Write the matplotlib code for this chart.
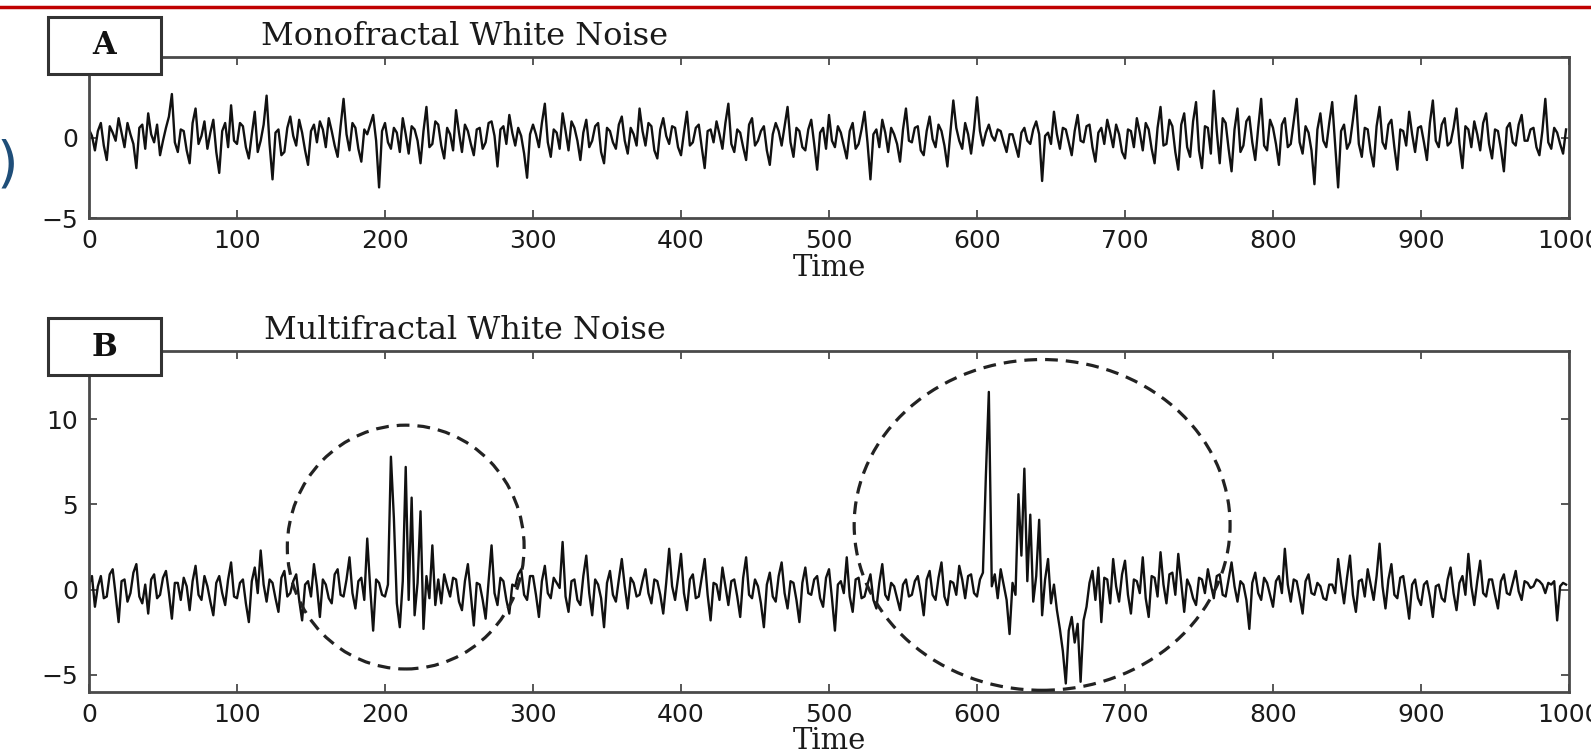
import numpy as np
import matplotlib.pyplot as plt
from matplotlib.patches import Ellipse, Rectangle
from matplotlib.lines import Line2D

# panel A - monofractal white noise, one value every 2 time steps
mono = [
    0.5, 0.1, -0.8, 0.4, 0.9, -0.5, -1.4, 0.7, 0.3, -0.2, 1.2, 0.3, -0.6, 0.9, 0.2, -0.4, -1.9, 0.6, 0.8, -0.7, 1.5, 0.2, -0.3, 0.8, -1.1,
    -0.2, 0.6, 1.3, 2.7, -0.3, -0.9, 0.5, 0.4, -0.8, -1.6, 0.9, 1.8, -0.4, 0.1, 1.0, -0.7, 0.3, 1.1, -0.9, -2.2, 0.4, 0.9, -0.6, 2.0, -0.2,
    -0.4, 0.9, 0.7, -0.6, -1.3, 0.2, 1.6, -0.9, -0.2, 0.8, 2.6, -0.4, -2.6, 0.3, 0.5, -1.1, -0.9, 0.6, 1.3, 0.1, -0.5, 1.1, 0.3, -0.8, -1.7,
    0.4, 0.8, -0.3, 1.0, 0.5, -0.6, 1.2, 0.4, -0.5, -1.2, 0.7, 2.4, 0.2, -0.8, 0.9, 0.6, -0.7, -1.5, 0.5, 0.2, 0.8, 1.4, -0.2, -3.1, 0.4,
    0.9, -0.3, -0.7, 0.6, 0.3, -0.9, 1.2, 0.2, -1.0, 0.7, 0.5, -0.2, -1.6, 0.4, 1.9, -0.6, -0.4, 1.0, 0.8, -0.5, -1.3, 0.6, 0.2, -0.8, 1.7,
    0.3, -0.9, 0.8, 0.4, -0.4, -1.1, 0.5, 0.6, -0.7, -0.3, 0.9, 1.0, 0.1, -1.8, 0.5, 0.7, -0.4, 1.4, 0.3, -0.5, 0.6, 0.1, -1.0, -2.5, 0.2,
    0.8, 0.2, -0.6, 0.9, 2.1, -0.3, -1.2, 0.5, 0.3, -0.7, 1.5, 0.4, -0.8, 1.0, 0.6, -0.2, -1.4, 0.3, 1.1, -0.6, -0.2, 0.7, 0.9, -0.9, -1.6,
    0.6, 0.4, -0.3, -0.7, 0.8, 1.3, -0.2, -1.0, 0.6, 0.2, -0.5, 1.8, 0.4, -0.5, 0.9, 0.7, -0.8, -1.3, 0.5, 1.2, 0.1, -0.4, 0.7, 0.6, -0.6,
    -1.1, 0.3, 1.6, -0.5, -0.3, 0.6, 0.8, -0.6, -1.9, 0.4, 0.5, -0.3, 1.0, 0.2, -0.7, 0.9, 2.1, -0.4, -0.9, 0.5, 0.3, -0.6, -1.4, 0.8, 1.2,
    -0.5, -0.2, 0.4, 0.7, -0.8, -1.7, 0.2, 0.9, 0.4, -0.5, 0.7, 1.9, -0.3, -1.2, 0.6, 0.4, -0.6, -0.8, 0.5, 1.1, -0.4, -2.0, 0.3, 0.6, -0.7,
    1.4, -0.2, -0.6, 0.7, 0.3, -0.5, -1.3, 0.4, 0.9, -0.7, -0.4, 0.5, 1.6, -0.3, -2.6, 0.2, 0.5, -0.6, 1.1, 0.3, -0.9, 0.6, 0.2, -0.4, -1.5,
    0.5, 1.8, -0.2, -0.3, 0.6, 0.7, -0.8, -1.1, 0.4, 1.3, -0.1, -0.6, 0.8, 0.4, -0.5, -1.8, 0.3, 2.3, 0.6, -0.2, -0.7, 0.9, 0.2, -1.0, 0.5,
    2.5, 0.4, -0.5, 0.3, 0.8, 0.1, -0.2, 0.5, 0.4, -0.3, -0.9, 0.2, 0.2, -0.5, -1.2, 0.3, 0.6, -0.2, -0.4, 0.5, 1.0, 0.2, -2.7, 0.1, 0.3,
    -0.4, 1.6, 0.2, -0.7, 0.6, 0.5, -0.3, -1.1, 0.4, 1.4, -0.2, -0.3, 0.7, 0.8, -0.6, -1.5, 0.3, 0.6, -0.4, 1.1, 0.3, -0.6, 0.8, 0.2, -0.9,
    -1.3, 0.5, 0.4, -0.6, 1.2, 0.3, -0.8, 0.9, 0.5, -0.7, -1.6, 0.6, 1.9, -0.5, -0.4, 1.1, 0.7, -0.9, -2.0, 0.8, 1.5, -0.6, -1.2, 1.0, 2.2,
    -0.8, -1.9, 0.7, 0.6, -1.0, 2.9, 0.4, -1.6, 1.2, 0.9, -0.7, -2.1, 0.5, 1.8, -0.9, -0.5, 1.0, 1.3, -0.3, -1.4, 0.6, 2.4, -0.5, -0.8, 1.1,
    0.6, -0.4, -1.7, 0.8, 1.2, -0.6, -0.4, 1.0, 2.4, -0.3, -1.0, 0.7, 0.3, -0.8, -2.9, 0.5, 1.5, -0.2, -0.6, 0.9, 2.2, -0.5, -3.1, 0.4, 0.8,
    -0.7, -0.3, 1.1, 2.6, -0.4, -1.2, 0.6, 0.5, -0.9, -1.8, 0.7, 1.9, -0.3, -0.7, 0.8, 1.1, -0.6, -2.0, 0.5, 0.4, -0.5, 1.6, 0.2, -0.9, 0.6,
    0.7, -0.3, -1.4, 0.9, 2.3, -0.2, -0.6, 0.8, 1.2, -0.5, -0.3, 0.6, 1.8, -0.4, -1.9, 0.7, 0.5, -0.6, 1.0, 0.2, -0.8, 0.9, 1.5, -0.4, -1.3,
    0.5, 0.4, -0.7, -2.1, 0.6, 0.9, -0.3, -0.5, 0.8, 1.4, -0.2, -0.2, 0.5, 0.6, -0.6, -1.1, 0.4, 2.4, -0.3, -0.7, 0.6, 0.3, -0.4, -1.0, 0.5,
]

# panel B - multifractal white noise, same spacing
multi = [
    0.3, 0.8, -1.0, 0.2, 0.8, -0.5, -0.4, 0.9, 1.2, -0.3, -1.9, 0.5, 0.6, -0.7, -0.2, 1.0, 1.5, -0.4, -0.8, 0.3, -1.4, 0.6, 0.9, -0.5, -0.3,
    0.7, 1.1, -0.2, -1.7, 0.4, 0.4, -0.6, 0.7, 0.2, -1.2, 0.5, 1.4, -0.3, -0.6, 0.8, 0.2, -0.7, -1.5, 0.4, 0.8, -0.2, -0.9, 0.6, 1.6, -0.4,
    -0.5, 0.4, 0.6, -0.8, -1.9, 0.5, 1.3, -0.2, 2.3, 0.3, -0.7, 0.6, 0.4, -0.5, -1.3, 0.7, 1.1, -0.4, -0.2, 0.5, 0.9, -0.6, -1.8, 0.3, 0.5,
    -0.4, 1.5, 0.2, -1.6, 0.6, 0.3, -0.5, -0.8, 0.9, 1.2, -0.3, -0.4, 0.6, 1.9, -0.2, -1.1, 0.5, 0.7, -0.6, 3.0, 0.1, -2.4, 0.6, 0.4, -0.3,
    -0.4, 0.3, 7.8, 4.2, -0.8, -2.2, 0.5, 7.2, -0.6, 5.4, -1.5, 0.4, 4.6, -2.3, 0.8, -0.5, 2.6, -0.9, 0.6, -0.8, 0.9, 0.2, -0.4, 0.7, 0.6,
    -0.7, -1.2, 0.5, 1.5, -0.3, -2.1, 0.4, 0.3, -0.6, -1.7, 0.5, 2.6, -0.2, -0.9, 0.7, 0.5, -0.6, -1.4, 0.3, 0.2, 0.9, 1.2, -0.3, -0.6, 0.8,
    0.8, -0.3, -1.6, 0.5, 1.4, -0.2, -0.5, 0.7, 0.4, 0.1, 2.8, -0.4, -1.3, 0.5, 0.6, -0.6, -0.9, 0.8, 2.0, -0.2, -1.5, 0.6, 0.3, -0.5, -2.2,
    0.4, 1.1, -0.3, -0.7, 0.6, 1.8, 0.2, -1.1, 0.7, 0.4, -0.4, -0.3, 0.5, 1.2, -0.2, -0.8, 0.6, 0.5, -0.3, -1.4, 0.4, 2.4, 0.2, -0.6, 0.7,
    2.1, -0.2, -1.2, 0.6, 0.9, -0.5, -0.4, 0.7, 1.8, -0.3, -1.8, 0.4, 0.3, -0.6, 1.3, 0.2, -0.9, 0.5, 0.6, -0.4, -1.6, 0.7, 1.9, -0.3, -0.5,
    0.6, 0.2, -0.8, -2.2, 0.3, 1.0, -0.4, -0.7, 0.8, 1.6, -0.2, -1.1, 0.5, 0.4, -0.6, -1.9, 0.4, 1.3, -0.2, -0.3, 0.6, 0.8, -0.5, -1.0, 0.7,
    1.2, -0.5, -2.4, 0.3, 0.5, -0.2, 1.9, -0.4, -1.3, 0.6, 0.7, -0.5, -0.4, 0.3, 0.9, -0.6, -1.1, 0.4, 1.5, -0.3, -0.6, 0.4, 0.2, -0.5, -1.2,
    0.3, 0.6, -0.4, -0.3, 0.5, 0.8, -0.2, -1.5, 0.6, 1.1, -0.3, -0.6, 0.7, 1.6, -0.4, -0.9, 0.5, 0.4, -0.3, 1.4, 0.6, -0.5, 0.8, 0.9, -0.2,
    -0.4, 0.6, 1.0, 6.7, 11.6, 0.2, 0.9, -0.5, 1.2, 0.3, -0.6, -2.6, 0.4, -0.3, 5.6, 2.0, 7.1, 0.5, 4.4, -0.7, 0.8, 4.1, -1.5, 0.6, 1.8,
    -0.8, 0.3, -1.2, -2.3, -3.6, -5.5, -2.4, -1.6, -3.1, -2.0, -5.4, -1.8, -1.0, 0.4, 1.1, -0.6, 1.3, -1.9, 0.7, 0.6, -0.8, 1.8, 0.2, -0.7, 0.9,
    1.7, -0.3, -1.4, 0.6, 0.5, -0.2, 1.9, -0.5, -1.6, 0.8, 0.7, -0.4, 2.2, 0.3, -0.8, 0.9, 1.0, -0.3, 2.1, 0.4, -1.3, 0.6, 0.2, -0.5, -0.9,
    0.7, 0.6, -0.2, 1.2, 0.3, -0.5, 0.8, 0.9, -0.3, -0.4, 0.6, 1.6, 0.2, -0.7, 0.5, 0.3, -0.6, -2.3, 0.4, 1.0, -0.2, -0.6, 0.7, 0.4, -0.3,
    -1.0, 0.5, 0.8, -0.2, 2.4, 0.3, -0.7, 0.6, 0.5, -0.4, -1.4, 0.5, 0.9, -0.2, -0.3, 0.4, 0.2, -0.5, -0.6, 0.3, 0.3, -0.2, 1.8, 0.4, -0.8,
    0.7, 2.0, -0.3, -1.3, 0.5, 0.6, -0.4, 1.2, 0.3, -0.6, 0.8, 2.7, 0.2, -1.1, 0.6, 1.5, -0.3, -0.5, 0.7, 0.8, -0.4, -1.7, 0.3, 0.6, -0.5,
    -0.9, 0.3, 0.5, -0.4, -1.6, 0.2, 0.3, -0.5, -0.7, 0.6, 1.3, -0.2, -1.2, 0.4, 0.8, -0.3, 2.1, 0.2, -0.9, 0.5, 1.7, -0.2, -0.4, 0.6, 0.6,
    -0.3, -1.1, 0.5, 0.9, -0.2, -0.3, 0.4, 1.1, -0.1, -0.6, 0.5, 0.4, 0.1, 0.2, 0.6, 0.5, 0.3, -0.2, 0.4, 0.3, 0.5, -1.8, 0.2, 0.4, 0.3,
]

step = 2  # time between samples
xticks = [0, 100, 200, 300, 400, 500, 600, 700, 800, 900, 1000]
yticks_a = [-5, 0, 5]
yticks_b = [-5, 0, 5, 10]
titles = ['Monofractal White Noise', 'Multifractal White Noise']
letters = ['A', 'B']

# dashed circles around the bursts: (centre t, centre value, width, height)
bursts = [(214, 2.5, 160, 14.3), (644, 3.8, 254, 19.4)]

W, H = 1591, 752
fig = plt.figure(figsize=(W / 100, H / 100), dpi=100)

sans = ['DejaVu Sans']
serif = ['DejaVu Serif']
axcol = '#4a4a4a'
txtcol = '#1a1a1a'


def px(x0, y0, x1, y1):
    # pixel box (top-left origin) -> figure fraction rect
    return [x0 / W, 1 - y1 / H, (x1 - x0) / W, (y1 - y0) / H]


ax_a = fig.add_axes(px(89, 57, 1569, 218))
ax_b = fig.add_axes(px(89, 351, 1569, 692))

panels = [(ax_a, mono, (-5, 5), yticks_a, 1), (ax_b, multi, (-6, 14), yticks_b, 0)]
for ax, y, ylim, yt, lpad in panels:
    t = np.arange(len(y)) * step
    ax.plot(t, y, color='#111111', lw=1.7)
    ax.set_xlim(0, 1000)
    ax.set_ylim(*ylim)
    ax.set_xticks(xticks)
    ax.set_yticks(yt)
    ax.set_yticklabels(['\u2212' + str(-v) if v < 0 else str(v) for v in yt])
    ax.tick_params(direction='in', length=6, width=1.3, color=axcol,
                   top=True, right=True, labelsize=18, pad=8)
    for lab in ax.get_xticklabels() + ax.get_yticklabels():
        lab.set_family(sans)
        lab.set_color(txtcol)
    for s in ax.spines.values():
        s.set_color(axcol)
        s.set_linewidth(2)
    ax.set_xlabel('Time', family=serif, fontsize=21, color=txtcol, labelpad=lpad)

for (cx, cy, w, h) in bursts:
    ax_b.add_patch(Ellipse((cx, cy), w, h, fill=False, ls=(0, (4, 2.5)),
                           lw=2.3, color='#222222', clip_on=False, zorder=3))

# panel titles and letter boxes
for top, title, letter in [(57, titles[0], letters[0]), (351, titles[1], letters[1])]:
    fig.text(465 / W, 1 - (top - 12) / H, title, family=serif, fontsize=23,
             ha='center', va='baseline', color=txtcol)
    box_top = top - 40 if letter == 'A' else top - 33
    fig.add_artist(Rectangle((48 / W, 1 - (box_top + 57) / H), 113 / W, 57 / H,
                             transform=fig.transFigure, facecolor='white',
                             edgecolor='#333333', lw=2.2, zorder=5))
    fig.text(104 / W, 1 - (box_top + 29) / H, letter, family=serif, fontsize=22,
             fontweight='bold', ha='center', va='center', color='#111111', zorder=6)

# slide decorations: red rule at top and a cut-off bracket on the left
fig.add_artist(Line2D([0, 1], [1 - 7 / H, 1 - 7 / H], transform=fig.transFigure,
                      color='#c00000', lw=2.5))
fig.text(18 / W, 1 - 166 / H, ')', fontsize=40, color='#1f4e79', ha='right',
         va='center', family=sans)

fig.savefig('out.png', dpi=100)
